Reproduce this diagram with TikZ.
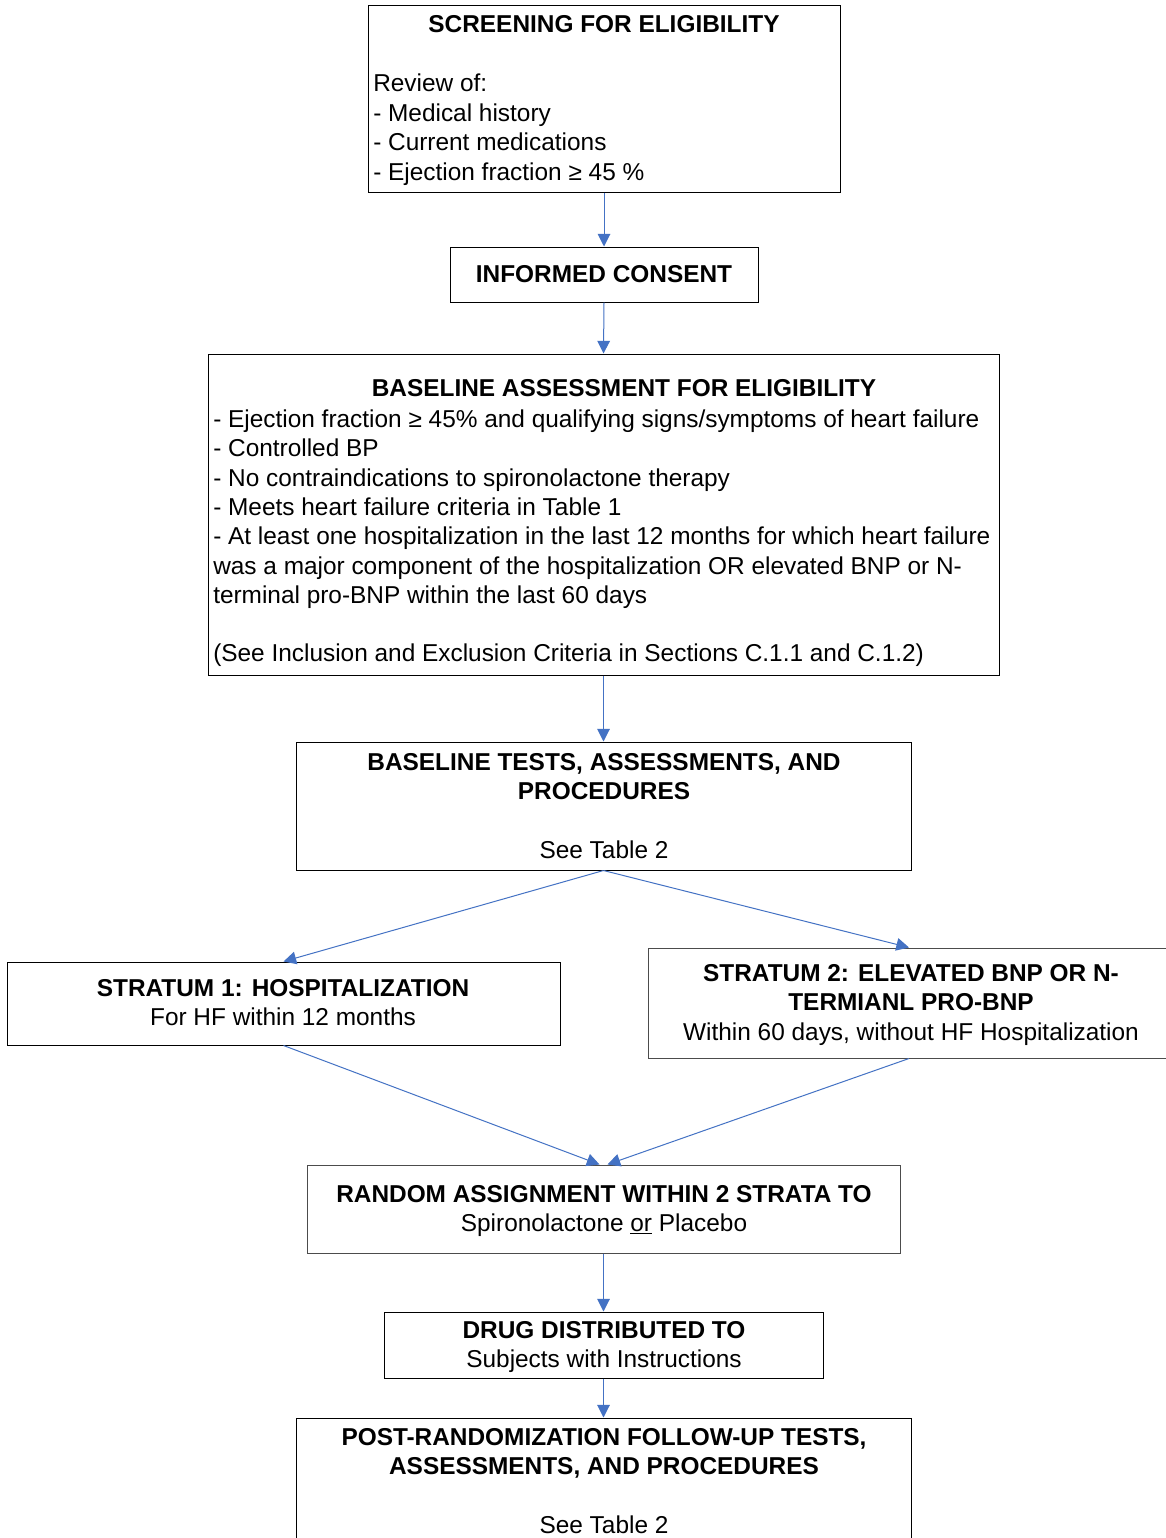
\documentclass[tikz,border=0pt]{standalone}
\usepackage{fontspec}
\setmainfont{Liberation Sans}
\usetikzlibrary{arrows.meta,fit}
\definecolor{arrowblue}{HTML}{4472C4}
\begin{document}
\begin{tikzpicture}[x=0.75pt,y=-0.75pt,
  box/.style={draw=black,line width=0.75pt,inner sep=0pt},
  gbox/.style={draw=black!70,line width=0.75pt,inner sep=0pt},
  txt/.style={inner sep=0pt,anchor=base,font=\fontsize{18.3}{21.75}\selectfont},
  ltxt/.style={txt,anchor=base west},
  btxt/.style={txt,font=\fontsize{18.3}{21.75}\selectfont\bfseries},
  arr/.style={draw=arrowblue,line width=0.75pt,-{Triangle[length=9.5pt,width=9.5pt]}}]
\useasboundingbox (0,0) rectangle (1165,1538);
\fill[white] (0,0) rectangle (1165,1538);
% boxes
\node[box,fit={(368,6) (840,192)}] (b1) {};
\node[box,fit={(450,247) (758,302)}] (b2) {};
\node[box,fit={(208,354) (999,675)}] (b3) {};
\node[box,fit={(296,742) (911,870)}] (b4) {};
\node[box,fit={(7,962) (560,1045)}] (s1) {};
\node[gbox,fit={(648,948) (1170,1058)}] (s2) {};
\node[gbox,fit={(307,1165) (900,1253)}] (r) {};
\node[box,fit={(384,1312) (823,1378)}] (d) {};
\node[box,fit={(296,1418) (911,1560)}] (p) {};
% box 1
\node[btxt] (t1a) at (604,33) {SCREENING FOR ELIGIBILITY};
\node[ltxt] (t1b) at (373,92) {Review of:};
\node[ltxt] (t1c) at (373,121) {- Medical history};
\node[ltxt] (t1d) at (373,150) {- Current medications};
\node[ltxt] (t1e) at (373,180) {- Ejection fraction ≥ 45 \%};
% box 2
\node[btxt] (t2a) at (604,282) {INFORMED CONSENT};
% box 3
\node[btxt] (t3a) at (624,396) {BASELINE ASSESSMENT FOR ELIGIBILITY};
\node[ltxt] (t3b) at (213,427) {- Ejection fraction ≥ 45\% and qualifying signs/symptoms of heart failure};
\node[ltxt] (t3c) at (213,456) {- Controlled BP};
\node[ltxt] (t3d) at (213,486) {- No contraindications to spironolactone therapy};
\node[ltxt] (t3e) at (213,515) {- Meets heart failure criteria in Table 1};
\node[ltxt] (t3f) at (213,544) {- At least one hospitalization in the last 12 months for which heart failure};
\node[ltxt] (t3g) at (213,574) {was a major component of the hospitalization OR elevated BNP or N-};
\node[ltxt] (t3h) at (213,603) {terminal pro-BNP within the last 60 days};
\node[ltxt] (t3i) at (213,661) {(See Inclusion and Exclusion Criteria in Sections C.1.1 and C.1.2)};
% box 4
\node[btxt] (t4a) at (604,770) {BASELINE TESTS, ASSESSMENTS, AND};
\node[btxt] (t4b) at (604,799) {PROCEDURES};
\node[txt] (t4c) at (604,858) {See Table 2};
% stratum 1
\node[btxt] (t5a) at (283,996) {STRATUM 1: HOSPITALIZATION};
\node[txt] (t5b) at (283,1025) {For HF within 12 months};
% stratum 2
\node[btxt] (t6a) at (911,981) {STRATUM 2: ELEVATED BNP OR N-};
\node[btxt] (t6b) at (911,1010) {TERMIANL PRO-BNP};
\node[txt] (t6c) at (911,1040) {Within 60 days, without HF Hospitalization};
% random
\node[btxt] (t7a) at (604,1202) {RANDOM ASSIGNMENT WITHIN 2 STRATA TO};
\node[txt] (t7b) at (604,1231) {Spironolactone \underline{or} Placebo};
% drug
\node[btxt] (t8a) at (604,1338) {DRUG DISTRIBUTED TO};
\node[txt] (t8b) at (604,1367) {Subjects with Instructions};
% post
\node[btxt] (t9a) at (604,1445) {POST-RANDOMIZATION FOLLOW-UP TESTS,};
\node[btxt] (t9b) at (604,1474) {ASSESSMENTS, AND PROCEDURES};
\node[txt] (t9c) at (604,1533) {See Table 2};
% arrows
\draw[arr] (b1.south) -- (b2.north);
\draw[arr] (b2.south) -- (b3.north);
\draw[arr] (b3.south) -- (b4.north);
\draw[arr] (b4.south) -- (s1.north);
\draw[arr] (b4.south) -- (s2.north);
\draw[arr] (s1.south) -- ([xshift=-3pt]r.north);
\draw[arr] (s2.south) -- ([xshift=3pt]r.north);
\draw[arr] (r.south) -- (d.north);
\draw[arr] (d.south) -- (p.north);
\end{tikzpicture}
\end{document}
